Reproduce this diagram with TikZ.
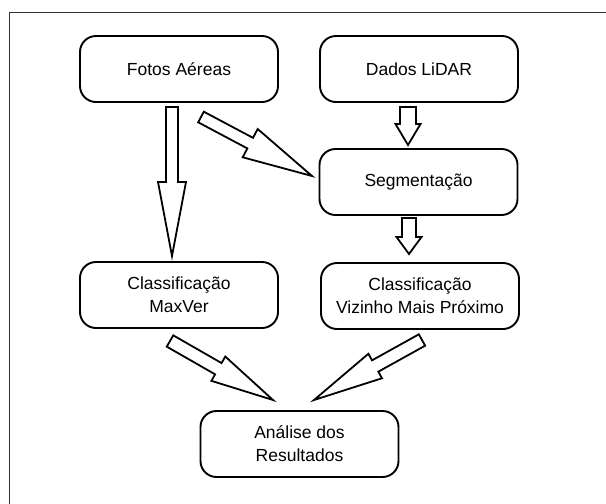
\documentclass[tikz,border=0pt]{standalone}
\usepackage{fontspec}
\setmainfont{Liberation Sans}
\usetikzlibrary{calc}
\tikzset{
  box/.style={draw, line width=1.9pt, rounded corners=16pt, minimum width=198pt, minimum height=66pt,
    align=center, inner sep=0pt, font=\fontsize{17.5}{23}\selectfont},
  barrow/.style={draw, line width=1.8pt, fill=white, line join=miter},
  frameline/.style={line width=1.6pt, black!80}
}
% #1 tail coordinate, #2 tip coordinate, #3 shaft half width, #4 head half width, #5 head length (pt)
\newcommand\blockarrow[5]{%
  \pgfpointanchor{#1}{center}\pgfgetlastxy{\baAx}{\baAy}%
  \pgfpointanchor{#2}{center}\pgfgetlastxy{\baBx}{\baBy}%
  \pgfmathsetmacro\baAng{atan2(\baBy-\baAy,\baBx-\baAx)}%
  \pgfmathsetmacro\baLen{veclen(\baBx-\baAx,\baBy-\baAy)}%
  \pgfmathsetmacro\baBase{\baLen-#5}%
  \draw[barrow, shift={(#1)}, rotate=\baAng]
    (0pt,#3pt) -- (\baBase pt,#3pt) -- (\baBase pt,#4pt) -- (\baLen pt,0pt)
    -- (\baBase pt,-#4pt) -- (\baBase pt,-#3pt) -- (0pt,-#3pt) -- cycle;}
\begin{document}
\begin{tikzpicture}[x=1pt,y=-1pt]
\useasboundingbox (0,0) rectangle (606,504);
\fill[white] (0,0) rectangle (606,504);
\draw[frameline] (9.5,504) -- (9.5,12.5) -- (606,12.5);

\node[box] (fotos) at (179,69) {Fotos Aéreas};
\node[box] (dados) at (419,69) {Dados LiDAR};
\node[box] (seg) at (418.5,182) {Segmentação};
\node[box] (maxver) at (179,295) {Classificação\\MaxVer};
\node[box] (vizinho) at (420,296) {Classificação\\Vizinho Mais Próximo};
\node[box] (analise) at (299.5,444) {Análise dos\\Resultados};

\coordinate (a1s) at (172,107);  \coordinate (a1e) at (172,256);
\coordinate (a2s) at (408,107);  \coordinate (a2e) at (408,145);
\coordinate (a3s) at (409,218);  \coordinate (a3e) at (409,254);
\coordinate (a4s) at (201,117);  \coordinate (a4e) at (312,176);
\coordinate (a5s) at (170,341);  \coordinate (a5e) at (273,400);
\coordinate (a6s) at (422,340);  \coordinate (a6e) at (314,400);

\blockarrow{a1s}{a1e}{6}{14}{74}
\blockarrow{a2s}{a2e}{8}{12.5}{21}
\blockarrow{a3s}{a3e}{7}{12.5}{17}
\blockarrow{a4s}{a4e}{6}{16}{70}
\blockarrow{a5s}{a5e}{6.5}{14}{63}
\blockarrow{a6s}{a6e}{6.5}{14}{70}
\end{tikzpicture}
\end{document}
